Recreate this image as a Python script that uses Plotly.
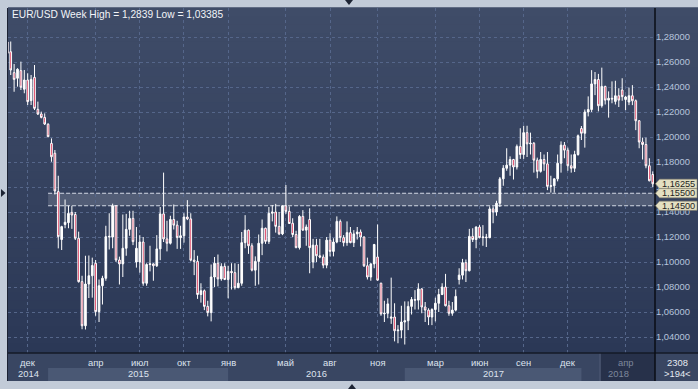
import plotly.graph_objects as go

# ---------------- data (weekly EUR/USD candles) ----------------
open_ = [1.2760, 1.2682, 1.2515, 1.2470, 1.2531, 1.2382, 1.2456, 1.2291, 1.2477, 1.2221,
         1.2184, 1.2157, 1.2102, 1.1949, 1.1870, 1.1563, 1.1180, 1.1300, 1.1315, 1.1397,
         1.1380, 1.1190, 1.0843, 1.0490, 1.0824, 1.0890, 1.0990, 1.0603, 1.0810, 1.0870,
         1.1200, 1.1200, 1.1450, 1.1016, 1.0985, 1.1110, 1.1261, 1.1349, 1.1000, 1.1000,
         1.1160, 1.0830, 1.0980, 1.0985, 1.0970, 1.1105, 1.1385, 1.1185, 1.1150, 1.1340,
         1.1295, 1.1195, 1.1210, 1.1360, 1.1345, 1.1015, 1.1005, 1.0740, 1.0770, 1.0645,
         1.0595, 1.0880, 1.0990, 1.0865, 1.0965, 1.0860, 1.0925, 1.0915, 1.0795, 1.0830,
         1.1155, 1.1255, 1.1130, 1.0935, 1.1005, 1.1150, 1.1270, 1.1165, 1.1390, 1.1400,
         1.1285, 1.1225, 1.1450, 1.1405, 1.1310, 1.1220, 1.1115, 1.1365, 1.1255, 1.1340,
         1.1000, 1.1135, 1.1050, 1.1040, 1.0975, 1.1175, 1.1085, 1.1160, 1.1325, 1.1195,
         1.1155, 1.1235, 1.1155, 1.1225, 1.1240, 1.1200, 1.0970, 1.0880, 1.0985, 1.1040,
         1.0830, 1.0585, 1.0590, 1.0550, 1.0560, 1.0450, 1.0455, 1.0520, 1.0530, 1.0645,
         1.0700, 1.0695, 1.0785, 1.0640, 1.0615, 1.0560, 1.0620, 1.0670, 1.0740, 1.0800,
         1.0650, 1.0590, 1.0615, 1.0860, 1.0895, 1.0995, 1.0930, 1.1205, 1.1180, 1.1280,
         1.1195, 1.1200, 1.1195, 1.1425, 1.1400, 1.1470, 1.1665, 1.1750, 1.1775, 1.1820,
         1.1760, 1.1925, 1.1860, 1.2035, 1.1945, 1.1950, 1.1815, 1.1725, 1.1820, 1.1785,
         1.1605, 1.1610, 1.1665, 1.1790, 1.1935, 1.1895, 1.1770, 1.1750, 1.1860, 1.2068,
         1.2030, 1.2200, 1.2220, 1.2425, 1.2460, 1.2250, 1.2405, 1.2295, 1.2310, 1.2285,
         1.2330, 1.2376, 1.2300, 1.2280, 1.2330, 1.2290, 1.2130, 1.1960, 1.1940, 1.1770,
         1.1700]
high = [1.2780, 1.2764, 1.2584, 1.2550, 1.2603, 1.2536, 1.2510, 1.2496, 1.2576, 1.2283,
        1.2203, 1.2189, 1.2110, 1.1989, 1.1896, 1.1690, 1.1290, 1.1500, 1.1450, 1.1450,
        1.1400, 1.1243, 1.0890, 1.1050, 1.1052, 1.1035, 1.1016, 1.0860, 1.0890, 1.1290,
        1.1390, 1.1467, 1.1455, 1.1043, 1.1380, 1.1385, 1.1410, 1.1410, 1.1280, 1.1215,
        1.1200, 1.0990, 1.1130, 1.0990, 1.1215, 1.1440, 1.1715, 1.1330, 1.1370, 1.1460,
        1.1330, 1.1290, 1.1390, 1.1495, 1.1390, 1.1095, 1.1050, 1.0830, 1.0780, 1.0690,
        1.0980, 1.1040, 1.1060, 1.0990, 1.0990, 1.0970, 1.0990, 1.0990, 1.0985, 1.1240,
        1.1375, 1.1260, 1.1150, 1.1045, 1.1220, 1.1340, 1.1275, 1.1440, 1.1455, 1.1465,
        1.1400, 1.1450, 1.1616, 1.1445, 1.1350, 1.1250, 1.1375, 1.1415, 1.1300, 1.1430,
        1.1185, 1.1185, 1.1185, 1.1060, 1.1200, 1.1230, 1.1190, 1.1365, 1.1340, 1.1215,
        1.1325, 1.1280, 1.1255, 1.1280, 1.1260, 1.1205, 1.1035, 1.0990, 1.1145, 1.1300,
        1.0835, 1.0690, 1.0710, 1.0875, 1.0670, 1.0495, 1.0650, 1.0685, 1.0685, 1.0720,
        1.0775, 1.0830, 1.0790, 1.0680, 1.0630, 1.0630, 1.0715, 1.0785, 1.0830, 1.0905,
        1.0690, 1.0680, 1.0780, 1.0950, 1.1025, 1.1020, 1.1265, 1.1270, 1.1285, 1.1295,
        1.1295, 1.1225, 1.1445, 1.1445, 1.1490, 1.1680, 1.1775, 1.1910, 1.1845, 1.1825,
        1.1940, 1.2070, 1.2090, 1.2090, 1.2035, 1.1960, 1.1835, 1.1880, 1.1860, 1.1880,
        1.1690, 1.1670, 1.1860, 1.1965, 1.1960, 1.1915, 1.1860, 1.1890, 1.2020, 1.2088,
        1.2220, 1.2325, 1.2535, 1.2520, 1.2505, 1.2555, 1.2410, 1.2365, 1.2445, 1.2450,
        1.2390, 1.2470, 1.2330, 1.2395, 1.2415, 1.2300, 1.2135, 1.1995, 1.1995, 1.1830,
        1.1725]
low = [1.2615, 1.2496, 1.2362, 1.2403, 1.2376, 1.2350, 1.2256, 1.2256, 1.2216, 1.2176,
       1.2149, 1.2096, 1.1998, 1.1802, 1.1540, 1.1109, 1.1096, 1.1270, 1.1270, 1.1265,
       1.1176, 1.0835, 1.0462, 1.0460, 1.0712, 1.0715, 1.0570, 1.0520, 1.0660, 1.0850,
       1.1100, 1.1110, 1.1000, 1.0820, 1.0880, 1.1050, 1.1210, 1.1135, 1.0955, 1.0915,
       1.0810, 1.0810, 1.0925, 1.0850, 1.0960, 1.1015, 1.1160, 1.1085, 1.1140, 1.1260,
       1.1105, 1.1105, 1.1155, 1.1335, 1.1005, 1.0895, 1.0705, 1.0675, 1.0615, 1.0565,
       1.0525, 1.0800, 1.0805, 1.0850, 1.0855, 1.0710, 1.0780, 1.0780, 1.0790, 1.0810,
       1.1110, 1.1065, 1.0925, 1.0810, 1.0820, 1.1055, 1.1145, 1.1145, 1.1325, 1.1235,
       1.1215, 1.1215, 1.1385, 1.1310, 1.1200, 1.1110, 1.1100, 1.1250, 1.1130, 1.0910,
       1.0950, 1.1000, 1.1030, 1.0950, 1.0950, 1.1045, 1.1045, 1.1150, 1.1160, 1.1125,
       1.1130, 1.1150, 1.1120, 1.1180, 1.1125, 1.0960, 1.0860, 1.0850, 1.0950, 1.0850,
       1.0570, 1.0520, 1.0550, 1.0505, 1.0365, 1.0350, 1.0390, 1.0340, 1.0455, 1.0580,
       1.0620, 1.0620, 1.0590, 1.0520, 1.0495, 1.0495, 1.0525, 1.0600, 1.0735, 1.0645,
       1.0570, 1.0570, 1.0605, 1.0820, 1.0860, 1.0840, 1.0925, 1.1160, 1.1110, 1.1190,
       1.1130, 1.1120, 1.1190, 1.1310, 1.1370, 1.1440, 1.1610, 1.1730, 1.1690, 1.1660,
       1.1740, 1.1825, 1.1825, 1.1840, 1.1860, 1.1715, 1.1670, 1.1715, 1.1730, 1.1575,
       1.1555, 1.1555, 1.1645, 1.1715, 1.1830, 1.1730, 1.1715, 1.1720, 1.1850, 1.1976,
       1.1915, 1.2165, 1.2200, 1.2335, 1.2205, 1.2235, 1.2260, 1.2155, 1.2270, 1.2260,
       1.2240, 1.2290, 1.2215, 1.2255, 1.2255, 1.2055, 1.1910, 1.1820, 1.1750, 1.1645,
       1.1600]
close = [1.2670, 1.2536, 1.2461, 1.2542, 1.2398, 1.2456, 1.2283, 1.2461, 1.2229, 1.2184,
         1.2157, 1.2104, 1.2003, 1.1842, 1.1568, 1.1203, 1.1283, 1.1318, 1.1389, 1.1376,
         1.1190, 1.0843, 1.0490, 1.0824, 1.0890, 1.0972, 1.0603, 1.0810, 1.0870, 1.1203,
         1.1205, 1.1450, 1.1016, 1.0985, 1.1110, 1.1261, 1.1349, 1.1163, 1.1110, 1.1160,
         1.0830, 1.0980, 1.0985, 1.0970, 1.1105, 1.1385, 1.1185, 1.1150, 1.1340, 1.1295,
         1.1195, 1.1210, 1.1360, 1.1345, 1.1015, 1.1005, 1.0740, 1.0770, 1.0645, 1.0595,
         1.0880, 1.0990, 1.0865, 1.0965, 1.0860, 1.0925, 1.0915, 1.0795, 1.0830, 1.1155,
         1.1255, 1.1130, 1.0935, 1.1005, 1.1150, 1.1270, 1.1165, 1.1390, 1.1400, 1.1285,
         1.1225, 1.1450, 1.1405, 1.1308, 1.1220, 1.1115, 1.1365, 1.1255, 1.1280, 1.1115,
         1.1135, 1.1050, 1.1040, 1.0975, 1.1175, 1.1085, 1.1160, 1.1325, 1.1195, 1.1155,
         1.1235, 1.1155, 1.1225, 1.1240, 1.1200, 1.0970, 1.0880, 1.0985, 1.1140, 1.0855,
         1.0585, 1.0590, 1.0665, 1.0560, 1.0450, 1.0455, 1.0520, 1.0530, 1.0645, 1.0700,
         1.0695, 1.0785, 1.0640, 1.0615, 1.0560, 1.0620, 1.0670, 1.0740, 1.0800, 1.0650,
         1.0590, 1.0615, 1.0725, 1.0895, 1.0995, 1.0930, 1.1205, 1.1180, 1.1280, 1.1195,
         1.1200, 1.1195, 1.1425, 1.1400, 1.1470, 1.1665, 1.1750, 1.1775, 1.1820, 1.1760,
         1.1925, 1.1860, 1.2035, 1.1945, 1.1950, 1.1815, 1.1725, 1.1820, 1.1785, 1.1605,
         1.1610, 1.1665, 1.1790, 1.1935, 1.1895, 1.1770, 1.1750, 1.1860, 1.2010, 1.2030,
         1.2200, 1.2220, 1.2425, 1.2460, 1.2250, 1.2405, 1.2295, 1.2310, 1.2305, 1.2330,
         1.2295, 1.2323, 1.2320, 1.2330, 1.2290, 1.2130, 1.1960, 1.1940, 1.1770, 1.1650,
         1.16255]
candle_idx = list(range(len(close)))

month_labels = ["дек", "апр", "июл", "окт", "янв", "май", "авг", "ноя",
                "мар", "июн", "сен", "дек", "апр"]
month_pos = [6, 26, 39, 52, 65, 82, 95, 109, 126, 139, 152, 165, 182]
year_labels = ["2014", "2015", "2016", "2017", "2018"]
year_starts = [12, 65, 117, 169]          # first candle of 2015..2018
y_ticks = [1.04, 1.06, 1.08, 1.10, 1.12, 1.14, 1.16, 1.18, 1.20, 1.22, 1.24, 1.26, 1.28]
band_low, band_high = 1.145, 1.155
last_price = 1.16255
title_text = "EUR/USD Week High = 1,2839 Low = 1,03385"
corner_top, corner_bottom = "2308", ">194<"

# ---------------- geometry ----------------
W, H = 698, 389
L_, R_, T_, B_ = 8, 43, 8, 36
PW, PH = W - L_ - R_, H - T_ - B_
X_RANGE = [0.2, 190.66]
Y_RANGE = [1.0272, 1.3032]
PAPER = "#c2cbd8"


def px(x):
    return (x - L_) / PW


def py(y):
    return (H - B_ - y) / PH


FONT = "Liberation Sans"
shapes = []
annotations = []

# gradient background of the dark chart region
top_c, bot_c = (63, 76, 104), (43, 56, 86)
n = 40
for k in range(n):
    t = (k + 0.5) / n
    col = tuple(round(a + (b - a) * t) for a, b in zip(top_c, bot_c))
    shapes.append(dict(type="rect", xref="paper", yref="paper", layer="below",
                       x0=0, x1=px(W), y0=1 - k / n + 0.002, y1=1 - (k + 1) / n - 0.002,
                       fillcolor="rgb(%d,%d,%d)" % col, line=dict(width=0)))

# bottom axis strip
shapes.append(dict(type="rect", xref="paper", yref="paper", layer="below",
                   x0=0, x1=px(W), y0=py(353), y1=py(381),
                   fillcolor="#394662", line=dict(width=0)))
for i0, i1 in [(year_starts[0], year_starts[1]), (year_starts[2], year_starts[3])]:
    shapes.append(dict(type="rect", xref="x", yref="paper", layer="below",
                       x0=i0, x1=i1, y0=py(368), y1=py(381),
                       fillcolor="#4a5874", line=dict(width=0)))
# darker box at the right of the time axis
shapes.append(dict(type="rect", xref="x", yref="paper", layer="below",
                   x0=174.5, x1=X_RANGE[1], y0=py(353), y1=py(381),
                   fillcolor="#27314a", line=dict(width=0)))
shapes.append(dict(type="line", xref="x", yref="paper", x0=174.5, x1=174.5,
                   y0=py(353), y1=py(381), line=dict(color="#56627c", width=1)))

# border lines
shapes.append(dict(type="line", xref="paper", yref="paper", x0=0, x1=px(W),
                   y0=0, y1=0, line=dict(color="#141a27", width=1.5)))
shapes.append(dict(type="line", xref="paper", yref="paper", x0=1, x1=1,
                   y0=py(381), y1=1, line=dict(color="#0a0d14", width=1.5)))
shapes.append(dict(type="line", xref="paper", yref="paper", x0=px(7.5), x1=px(7.5),
                   y0=py(381), y1=1, line=dict(color="#1c2233", width=1)))

# highlighted price band
shapes.append(dict(type="rect", xref="x", yref="y", layer="below",
                   x0=year_starts[0], x1=X_RANGE[1], y0=band_low, y1=band_high,
                   fillcolor="rgba(255,255,255,0.15)", line=dict(width=0)))
for lvl in (band_low, band_high):
    shapes.append(dict(type="line", xref="x", yref="y", layer="below",
                       x0=year_starts[0], x1=X_RANGE[1], y0=lvl, y1=lvl,
                       line=dict(color="rgba(235,240,250,0.85)", width=1, dash="4px,2px")))


# small UI triangles
def tri(points):
    d = "M " + " L ".join("%f,%f" % (px(a), py(b)) for a, b in points) + " Z"
    return dict(type="path", xref="paper", yref="paper", path=d,
                fillcolor="#1d2434", line=dict(width=0))


shapes.append(tri([(345, 0), (353, 0), (349, 5)]))
shapes.append(tri([(348, 389), (356, 389), (352, 384)]))
shapes.append(tri([(1, 189), (1, 197), (5.5, 193)]))

# price tags on the right axis
h = 4.6 / 1250
for p in (last_price, band_high, band_low):
    d = "M %f,%f L %f,%f L %f,%f L %f,%f L %f,%f Z" % (
        px(655.5), p, px(659.5), p + h, px(697), p + h, px(697), p - h, px(659.5), p - h)
    shapes.append(dict(type="path", xref="paper", yref="y", path=d,
                       fillcolor="#e4e0c2", line=dict(color="#8e8a72", width=0.6)))
    label = ("%.5f" % p).replace(".", ",")
    annotations.append(dict(xref="paper", yref="y", x=px(678.5), y=p, text=label,
                            showarrow=False, xanchor="center", yanchor="middle",
                            font=dict(family=FONT, size=9.2, color="#1e1e1e")))

# time axis labels
for lab, pos in zip(month_labels, month_pos):
    dim = pos >= 174.5
    annotations.append(dict(xref="x", yref="paper", x=pos, y=py(362.5), text=lab,
                            showarrow=False, xanchor="center", yanchor="middle",
                            font=dict(family=FONT, size=9.4,
                                      color="#7d879c" if dim else "#dde3ee")))
bounds = [X_RANGE[0]] + year_starts + [X_RANGE[1]]
for k, lab in enumerate(year_labels):
    cx = (bounds[k] + bounds[k + 1]) / 2
    dim = k == len(year_labels) - 1
    annotations.append(dict(xref="x", yref="paper", x=cx, y=py(373.5), text=lab,
                            showarrow=False, xanchor="center", yanchor="middle",
                            font=dict(family=FONT, size=9.4,
                                      color="#7d879c" if dim else "#dde3ee")))

annotations.append(dict(xref="paper", yref="paper", x=px(677), y=py(362), text=corner_top,
                        showarrow=False, xanchor="center", yanchor="middle",
                        font=dict(family=FONT, size=9.4, color="#e6ebf3")))
annotations.append(dict(xref="paper", yref="paper", x=px(677), y=py(373), text=corner_bottom,
                        showarrow=False, xanchor="center", yanchor="middle",
                        font=dict(family=FONT, size=9.4, color="#e6ebf3")))
annotations.append(dict(xref="paper", yref="paper", x=px(10), y=py(14.5), text=title_text,
                        showarrow=False, xanchor="left", yanchor="middle",
                        font=dict(family=FONT, size=10.2, color="#f2f4f8")))

fig = go.Figure(go.Candlestick(
    x=candle_idx, open=open_, high=high, low=low, close=close,
    increasing=dict(line=dict(color="#ffffff", width=1), fillcolor="#ffffff"),
    decreasing=dict(line=dict(color="#ffffff", width=1), fillcolor="#d8163e"),
    whiskerwidth=0, hoverinfo="skip", showlegend=False))

grid = "#55668a"
fig.update_layout(
    width=W, height=H, autosize=False,
    margin=dict(l=L_, r=R_, t=T_, b=B_, pad=0),
    paper_bgcolor=PAPER, plot_bgcolor="#34415f",
    separators=",.", boxgap=0.3, hovermode=False, showlegend=False,
    font=dict(family=FONT, size=9.2, color="#dde3ee"),
    shapes=shapes, annotations=annotations,
    xaxis=dict(range=X_RANGE, fixedrange=True, rangeslider=dict(visible=False),
               tickmode="array", tickvals=month_pos, showticklabels=False, ticks="",
               showgrid=True, gridcolor=grid, gridwidth=1, griddash="3px,3px",
               zeroline=False, showline=False),
    yaxis=dict(range=Y_RANGE, fixedrange=True, side="right",
               tickmode="array", tickvals=y_ticks, tickformat=".5f", ticks="",
               tickfont=dict(family=FONT, size=9.4, color="#b6c4dc"),
               showgrid=True, gridcolor=grid, gridwidth=1, griddash="3px,3px",
               zeroline=False, showline=False),
)

# remove the browser's default page margin so the figure sits at the window origin
page_css = ("document.body.style.margin='0';document.body.style.padding='0';"
            "document.body.style.overflow='hidden';"
            "document.body.style.background='%s';" % PAPER)
fig.write_html("out.html", post_script=page_css, config={"displayModeBar": False})
